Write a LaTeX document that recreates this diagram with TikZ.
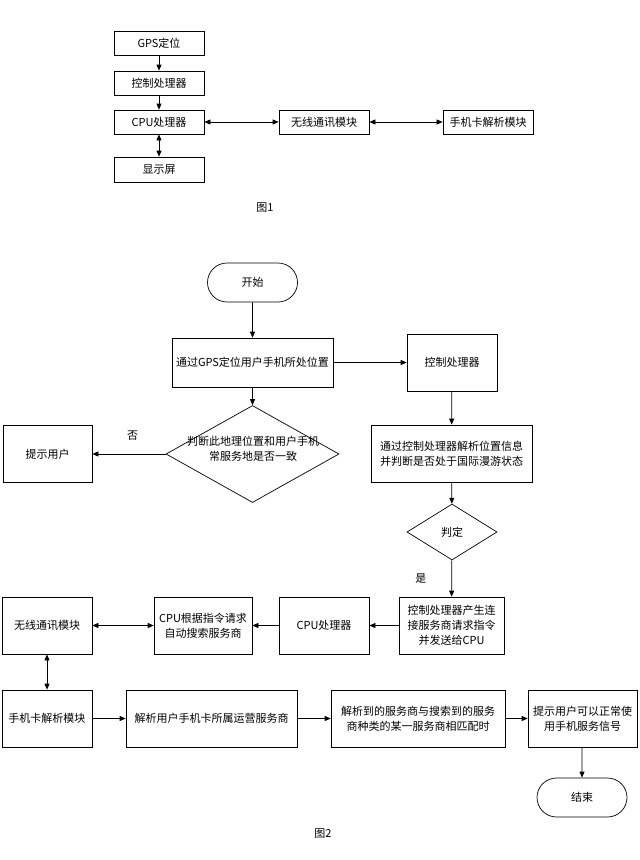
\documentclass[tikz,border=0pt]{standalone}
\usepackage{fontspec}
\setmainfont{Noto Sans CJK SC}
\usetikzlibrary{arrows.meta}
\usetikzlibrary{shapes.geometric, shapes.misc}
\tikzset{
  txt/.style={font=\fontsize{11}{15}\selectfont, align=center, inner sep=0pt},
  blk/.style={txt, draw, line width=0.7pt},
  smallblk/.style={blk, minimum width=90pt, minimum height=24pt},
  term/.style={blk, rounded rectangle, minimum width=90pt, minimum height=39pt},
  decision/.style={draw, line width=0.7pt, diamond, inner sep=0pt},
  arr/.style={line width=0.7pt, -{Triangle[length=6pt,width=5pt]}},
  dbl/.style={line width=0.7pt, {Triangle[length=6pt,width=5pt]}-{Triangle[length=6pt,width=5pt]}}
}

\begin{document}
\begin{tikzpicture}[x=1pt, y=-1pt]
  \fill [white] (0,0) rectangle (640,860);
  \useasboundingbox (0,0) rectangle (640,860);

  % fig 1
  \node [smallblk] (gps) at (159,43) {GPS定位};
  \node [smallblk] (ctrl) at (159,83) {控制处理器};
  \node [smallblk] (cpu) at (159,122) {CPU处理器};
  \node [smallblk, minimum height=25pt] (disp) at (159,169.5) {显示屏};
  \node [smallblk] (wless) at (324,122) {无线通讯模块};
  \node [smallblk] (sim) at (488,122) {手机卡解析模块};
  \node [txt] (fig1) at (265,208) {图1};

  \draw [arr] (gps) -- (ctrl);
  \draw [arr] (ctrl) -- (cpu);
  \draw [dbl] (cpu) -- (disp);
  \draw [dbl] (cpu) -- (wless);
  \draw [dbl] (wless) -- (sim);

  % fig 2
  \node [term] (start) at (252.5,282.5) {开始};
  \node [blk, minimum width=161pt, minimum height=49pt] (locate) at (252.5,362.5) {通过GPS定位用户手机所处位置};
  \node [blk, minimum width=90pt, minimum height=57pt] (ctrlb) at (452,362.5) {控制处理器};
  \node [decision, minimum width=173pt, minimum height=97pt] (judge) at (252.5,454) {};
  \node [txt] (judgetxt) at (253,449) {判断此地理位置和用户手机\\常服务地是否一致};
  \node [blk, minimum width=89pt, minimum height=57pt] (hint) at (47.5,454) {提示用户};
  \node [blk, minimum width=161pt, minimum height=57pt] (parse) at (451.5,453.5) {通过控制处理器解析位置信息\\并判断是否处于国际漫游状态};
  \node [decision, txt, draw, minimum width=90pt, minimum height=56pt] (decide) at (452,532) {判定};
  \node [blk, minimum width=105pt, minimum height=57pt] (gencmd) at (451.5,625.5) {控制处理器产生连\\接服务商请求指令\\并发送给CPU};
  \node [blk, minimum width=90pt, minimum height=57pt] (cpub) at (324,625.5) {CPU处理器};
  \node [blk, minimum width=98pt, minimum height=57pt] (search) at (203,625.5) {CPU根据指令请求\\自动搜索服务商};
  \node [blk, minimum width=90pt, minimum height=57pt] (wlessb) at (47,625.5) {无线通讯模块};
  \node [blk, minimum width=90pt, minimum height=57pt] (simb) at (47,718.5) {手机卡解析模块};
  \node [blk, minimum width=171pt, minimum height=57pt] (opparse) at (211.5,718.5) {解析用户手机卡所属运营服务商};
  \node [blk, minimum width=174pt, minimum height=57pt] (match) at (418,718.5) {解析到的服务商与搜索到的服务\\商种类的某一服务商相匹配时};
  \node [blk, minimum width=109pt, minimum height=57pt] (okhint) at (582.5,718.5) {提示用户可以正常使\\用手机服务信号};
  \node [term] (stop) at (582,797.5) {结束};
  \node [txt] (fig2) at (323,834) {图2};

  \draw [arr] (start) -- (locate);
  \draw [arr] (locate) -- (ctrlb);
  \draw [arr] (locate) -- (judge);
  \draw [arr] (judge.west) -- (hint.east) node [txt, pos=0.45, above=13pt] (no) {否};
  \draw [arr] (ctrlb) -- (parse);
  \draw [arr] (parse) -- (decide);
  \draw [arr] (decide) -- (gencmd) node [txt, pos=0.5, left=25pt] (yes) {是};
  \draw [arr] (gencmd) -- (cpub);
  \draw [arr] (cpub) -- (search);
  \draw [dbl] (wlessb) -- (search);
  \draw [dbl] (wlessb) -- (simb);
  \draw [arr] (simb) -- (opparse);
  \draw [arr] (opparse) -- (match);
  \draw [arr] (match) -- (okhint);
  \draw [arr] (okhint.south -| stop) -- (stop);
\end{tikzpicture}
\end{document}
